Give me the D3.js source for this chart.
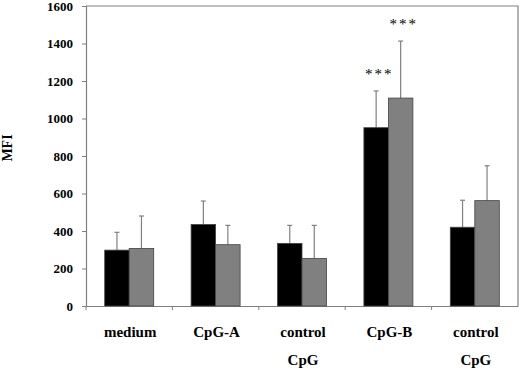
<!DOCTYPE html>
<html><head><meta charset="utf-8">
<script src="https://cdn.jsdelivr.net/npm/d3@7"></script>
<style>body{margin:0;background:#fff}svg{display:block}text{font-family:'Liberation Serif','Times New Roman',serif;font-weight:bold;fill:#000}</style>
</head><body>
<svg id="c" width="520" height="369"></svg>
<script>
const categories = [["medium"], ["CpG-A"], ["control", "CpG"], ["CpG-B"], ["control", "CpG"]];
const seriesBlack = [298, 435, 334, 951, 420];
const errBlack = [95, 125, 96, 196, 144];
const seriesGray = [307, 327, 254, 1109, 562];
const errGray = [173, 103, 176, 304, 186];
const stars = ["", "", "", "***", ""];
const starsGray = ["", "", "", "***", ""];
const yTicks = [0, 200, 400, 600, 800, 1000, 1200, 1400, 1600];

const svg = d3.select("#c");
const L = 86, R = 518, T = 6, B = 306;
const x = d3.scaleBand().domain(d3.range(categories.length)).range([L, R]).paddingInner(0).paddingOuter(0);
const y = d3.scaleLinear().domain([0, 1600]).range([B, T]);
const bw = 24.5;
const axisColor = "#808080";

// plot border (top, right)
svg.append("path").attr("d", `M${L},${T}H${R}V${B}`).attr("fill", "none").attr("stroke", axisColor).attr("stroke-width", 1.2);

// y axis
const ya = svg.append("g").attr("transform", `translate(${L},0)`)
  .call(d3.axisLeft(y).tickValues(yTicks).tickFormat(d3.format("d")).tickSize(4).tickPadding(9));
ya.attr("font-family", null);
ya.select(".domain").attr("stroke", axisColor).attr("stroke-width", 1.2);
ya.selectAll(".tick line").attr("stroke", axisColor);
ya.selectAll("text").style("font-size", "13px").attr("fill", "#000");

// x axis
const xa = svg.append("g").attr("transform", `translate(0,${B})`)
  .call(d3.axisBottom(x).tickValues([]).tickSizeOuter(0));
xa.select(".domain").attr("stroke", axisColor).attr("stroke-width", 1.2);
const bounds = d3.range(categories.length).map(i => x(i));
xa.selectAll("line.bt").data(bounds).enter().append("line").attr("class", "bt")
  .attr("x1", d => d).attr("x2", d => d).attr("y1", 0).attr("y2", 4).attr("stroke", axisColor);

// category labels
categories.forEach((lines, i) => {
  const cx = x(i) + x.bandwidth() / 2 + 1;
  lines.forEach((t, j) => {
    svg.append("text").attr("x", cx).attr("y", 337 + j * 28).attr("text-anchor", "middle")
      .style("font-size", "15px").text(t);
  });
});

// y label
svg.append("text").attr("transform", "translate(12,148) rotate(-90)").attr("text-anchor", "middle")
  .style("font-size", "14px").text("MFI");

function drawSeries(vals, errs, off, fill, st) {
  const g = svg.append("g");
  vals.forEach((v, i) => {
    const cx = x(i) + x.bandwidth() / 2 + off;
    g.append("line").attr("x1", cx).attr("x2", cx).attr("y1", y(v)).attr("y2", y(v + errs[i])).attr("stroke", axisColor).attr("stroke-width", 1.2);
    g.append("line").attr("x1", cx - 2.5).attr("x2", cx + 2.5).attr("y1", y(v + errs[i])).attr("y2", y(v + errs[i])).attr("stroke", axisColor).attr("stroke-width", 1.2);
    g.append("rect").attr("x", cx - bw / 2).attr("y", y(v)).attr("width", bw).attr("height", y(0) - y(v))
      .attr("fill", fill).attr("stroke", "#444").attr("stroke-width", 0.8);
    if (st[i]) {
      g.append("text").attr("x", cx + 3).attr("y", y(v + errs[i]) - 12).attr("text-anchor", "middle")
        .style("font-size", "15px").style("font-weight", "normal").style("letter-spacing", "2px").text(st[i]);
    }
  });
}
drawSeries(seriesBlack, errBlack, -bw / 2, "#000", stars);
drawSeries(seriesGray, errGray, bw / 2, "#808080", starsGray);
</script>
</body></html>
